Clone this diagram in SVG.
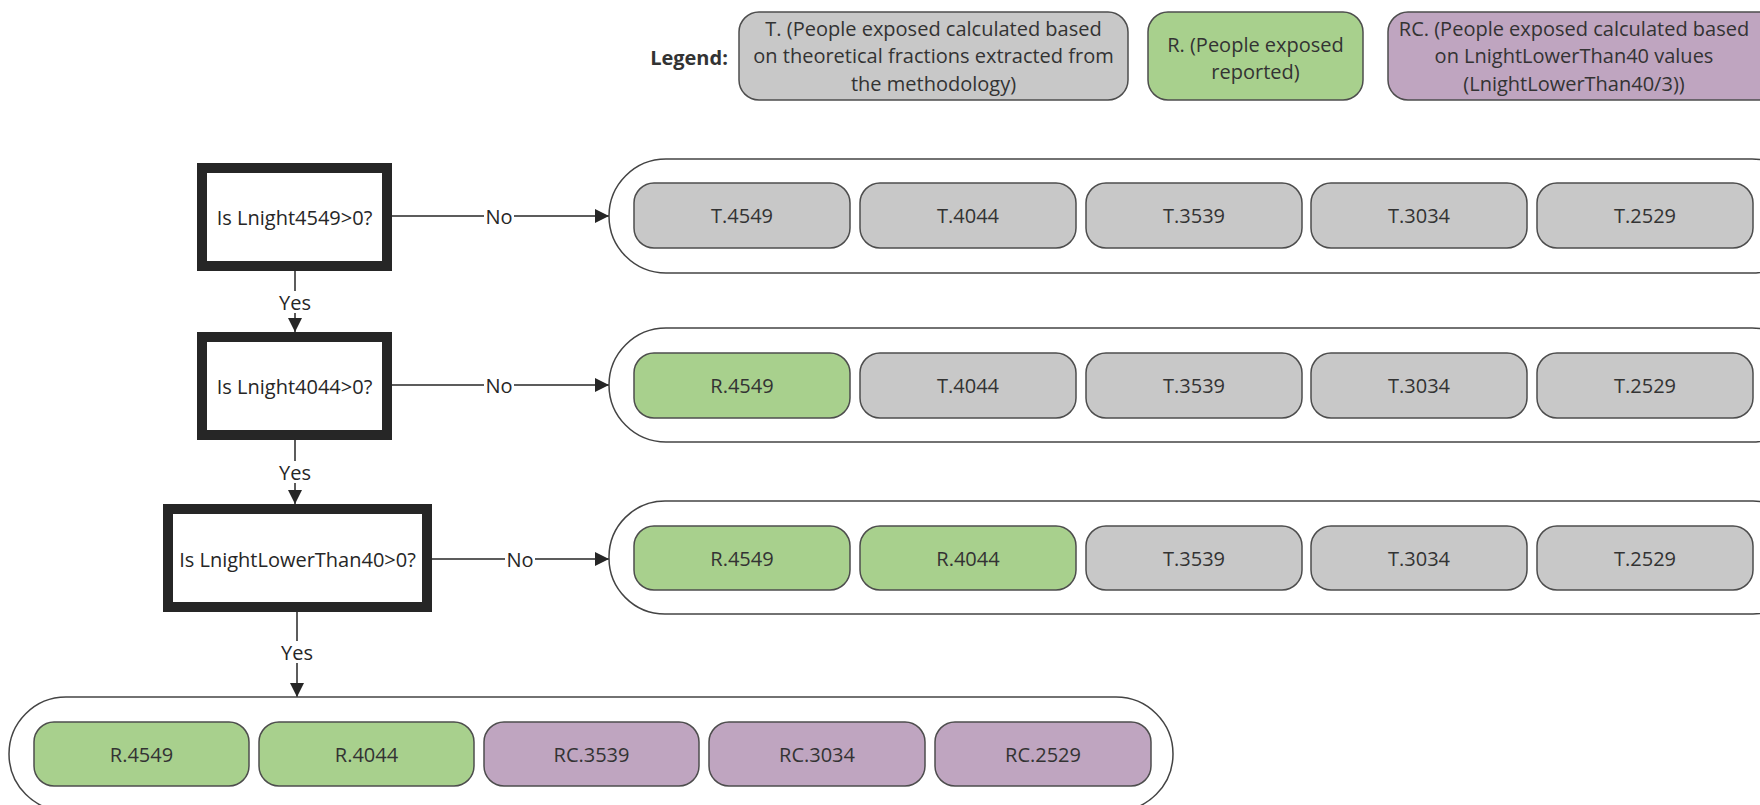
<svg xmlns="http://www.w3.org/2000/svg" width="1760" height="805" viewBox="0 0 1760 805">
  <defs>
    <marker id="arrow" viewBox="0 0 14 14" refX="14" refY="7" markerWidth="14" markerHeight="14" markerUnits="userSpaceOnUse" orient="auto">
      <path d="M0,0 L14,7 L0,14 Z" fill="#262626"/>
    </marker>
    <style>
      text { font-family: "Open Sans", "Liberation Sans", sans-serif; font-size: 20px; fill: #333; }
      .c { text-anchor: middle; dominant-baseline: central; }
      .lbl { fill: #262626; }
      .legend { font-weight: bold; }
      .box { stroke: #4d4d4d; stroke-width: 1.5; }
      .t { fill: #c8c8c8; }
      .r { fill: #a8d08d; }
      .rc { fill: #bfa5c0; }
      .group { fill: #fff; stroke: #444; stroke-width: 1.5; }
      .decision { fill: #fff; stroke: #262626; stroke-width: 10; }
      .edge { fill: none; stroke: #262626; stroke-width: 1.5; }
      .elabel { fill: #fff; }
    </style>
  </defs>
  <rect width="1760" height="805" fill="#fff"/>

  <!-- Legend -->
  <g id="legend">
    <text class="c legend" x="689" y="57">Legend:</text>
    <g id="legend-t">
      <rect class="box t" x="739" y="12" width="389" height="88" rx="20"/>
      <text class="c" x="933.5" y="28">T. (People exposed calculated based</text>
      <text class="c" x="933.5" y="55.5">on theoretical fractions extracted from</text>
      <text class="c" x="933.5" y="83">the methodology)</text>
    </g>
    <g id="legend-r">
      <rect class="box r" x="1148" y="12" width="215" height="88" rx="20"/>
      <text class="c" x="1255.5" y="44.5">R. (People exposed</text>
      <text class="c" x="1255.5" y="71">reported)</text>
    </g>
    <g id="legend-rc">
      <rect class="box rc" x="1388" y="12" width="400" height="88" rx="20"/>
      <text class="c" x="1574" y="28">RC. (People exposed calculated based</text>
      <text class="c" x="1574" y="55.5">on LnightLowerThan40 values</text>
      <text class="c" x="1574" y="83">(LnightLowerThan40/3))</text>
    </g>
  </g>

  <!-- Connectors -->
  <g id="connectors">
    <line class="edge" x1="392" y1="216" x2="609" y2="216" marker-end="url(#arrow)"/>
    <line class="edge" x1="392" y1="385" x2="609" y2="385" marker-end="url(#arrow)"/>
    <line class="edge" x1="432" y1="559" x2="609" y2="559" marker-end="url(#arrow)"/>
    <line class="edge" x1="295" y1="271" x2="295" y2="332" marker-end="url(#arrow)"/>
    <line class="edge" x1="295" y1="440" x2="295" y2="504" marker-end="url(#arrow)"/>
    <line class="edge" x1="297" y1="612" x2="297" y2="697" marker-end="url(#arrow)"/>
    <rect class="elabel" x="484" y="205" width="30" height="22"/>
    <text class="c lbl" x="499" y="216">No</text>
    <rect class="elabel" x="484" y="374" width="30" height="22"/>
    <text class="c lbl" x="499" y="385">No</text>
    <rect class="elabel" x="505" y="548" width="30" height="22"/>
    <text class="c lbl" x="520" y="559">No</text>
    <rect class="elabel" x="277" y="291" width="37" height="22"/>
    <text class="c lbl" x="295" y="302">Yes</text>
    <rect class="elabel" x="277" y="461" width="37" height="22"/>
    <text class="c lbl" x="295" y="472">Yes</text>
    <rect class="elabel" x="279" y="641" width="37" height="22"/>
    <text class="c lbl" x="297" y="652">Yes</text>
  </g>

  <!-- Decisions -->
  <g id="q-4549">
    <rect class="decision" x="202" y="168" width="185" height="98"/>
    <text class="c lbl" x="294.5" y="217">Is Lnight4549&gt;0?</text>
  </g>
  <g id="q-4044">
    <rect class="decision" x="202" y="337" width="185" height="98"/>
    <text class="c lbl" x="294.5" y="386">Is Lnight4044&gt;0?</text>
  </g>
  <g id="q-lower40">
    <rect class="decision" x="168" y="509" width="259" height="98"/>
    <text class="c lbl" x="297.5" y="559">Is LnightLowerThan40&gt;0?</text>
  </g>

  <!-- Outcome 1 -->
  <g id="outcome-1">
    <rect class="group" x="609" y="159" width="1200" height="114" rx="57"/>
    <rect class="box t" x="634" y="183" width="216" height="65" rx="20"/><text class="c" x="742" y="215.5">T.4549</text>
    <rect class="box t" x="860" y="183" width="216" height="65" rx="20"/><text class="c" x="968" y="215.5">T.4044</text>
    <rect class="box t" x="1086" y="183" width="216" height="65" rx="20"/><text class="c" x="1194" y="215.5">T.3539</text>
    <rect class="box t" x="1311" y="183" width="216" height="65" rx="20"/><text class="c" x="1419" y="215.5">T.3034</text>
    <rect class="box t" x="1537" y="183" width="216" height="65" rx="20"/><text class="c" x="1645" y="215.5">T.2529</text>
  </g>

  <!-- Outcome 2 -->
  <g id="outcome-2">
    <rect class="group" x="609" y="328" width="1200" height="114" rx="57"/>
    <rect class="box r" x="634" y="353" width="216" height="65" rx="20"/><text class="c" x="742" y="385.5">R.4549</text>
    <rect class="box t" x="860" y="353" width="216" height="65" rx="20"/><text class="c" x="968" y="385.5">T.4044</text>
    <rect class="box t" x="1086" y="353" width="216" height="65" rx="20"/><text class="c" x="1194" y="385.5">T.3539</text>
    <rect class="box t" x="1311" y="353" width="216" height="65" rx="20"/><text class="c" x="1419" y="385.5">T.3034</text>
    <rect class="box t" x="1537" y="353" width="216" height="65" rx="20"/><text class="c" x="1645" y="385.5">T.2529</text>
  </g>

  <!-- Outcome 3 -->
  <g id="outcome-3">
    <rect class="group" x="609" y="501" width="1200" height="113" rx="56"/>
    <rect class="box r" x="634" y="526" width="216" height="64" rx="20"/><text class="c" x="742" y="558">R.4549</text>
    <rect class="box r" x="860" y="526" width="216" height="64" rx="20"/><text class="c" x="968" y="558">R.4044</text>
    <rect class="box t" x="1086" y="526" width="216" height="64" rx="20"/><text class="c" x="1194" y="558">T.3539</text>
    <rect class="box t" x="1311" y="526" width="216" height="64" rx="20"/><text class="c" x="1419" y="558">T.3034</text>
    <rect class="box t" x="1537" y="526" width="216" height="64" rx="20"/><text class="c" x="1645" y="558">T.2529</text>
  </g>

  <!-- Outcome 4 -->
  <g id="outcome-4">
    <rect class="group" x="9" y="697" width="1164" height="114" rx="57"/>
    <rect class="box r" x="34" y="722" width="215" height="64" rx="20"/><text class="c" x="141.5" y="754">R.4549</text>
    <rect class="box r" x="259" y="722" width="215" height="64" rx="20"/><text class="c" x="366.5" y="754">R.4044</text>
    <rect class="box rc" x="484" y="722" width="215" height="64" rx="20"/><text class="c" x="591.5" y="754">RC.3539</text>
    <rect class="box rc" x="709" y="722" width="216" height="64" rx="20"/><text class="c" x="817" y="754">RC.3034</text>
    <rect class="box rc" x="935" y="722" width="216" height="64" rx="20"/><text class="c" x="1043" y="754">RC.2529</text>
  </g>
</svg>
